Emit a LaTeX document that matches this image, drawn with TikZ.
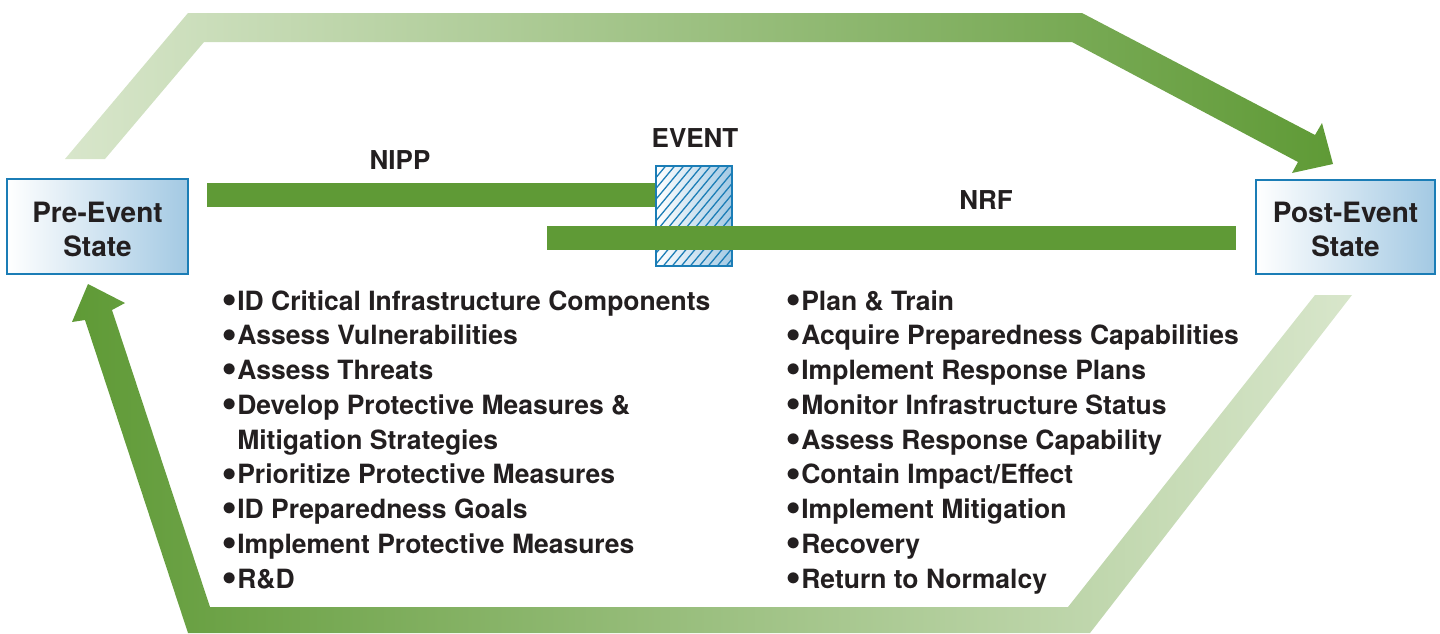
\documentclass[tikz,border=0pt]{standalone}
\usepackage{fontspec}
\setmainfont{TeX Gyre Heros}
\usepackage{tikz}
\usetikzlibrary{positioning}

\definecolor{leaf}{HTML}{5F9A36}
\definecolor{paleleaf}{HTML}{D8E6CB}
\definecolor{edgeblue}{HTML}{1B7DB6}
\definecolor{skyblue}{HTML}{A3C9E3}
\definecolor{ink}{HTML}{231F20}

\newcommand{\itemdot}{\raisebox{0.1em}{\scalebox{1.15}{$\bullet$}}\hspace{0.03em}}

\tikzset{
  statebox/.style={draw=edgeblue, line width=2.5pt, left color=white, right color=skyblue, inner sep=0pt},
  boxtext/.style={align=center, inner sep=0pt, text=ink, font=\fontsize{28}{34}\selectfont\bfseries},
  title/.style={inner sep=0pt, text=ink, font=\fontsize{26}{30}\selectfont\bfseries},
  item/.style={anchor=base west, inner sep=0pt, text=ink, font=\fontsize{26.5}{30}\selectfont\bfseries},
  bar/.style={fill=leaf}
}

\begin{document}
\begin{tikzpicture}[x=1pt,y=-1pt]

\useasboundingbox (0,0) rectangle (1440,633);

% big loop arrows
\shade[left color=paleleaf, right color=leaf] (65,159) -- (188,13) -- (1082,13) -- (1315,135) -- (1322,123)
   -- (1333,164) -- (1292,173) -- (1298,162) -- (1072,42) -- (204,42) -- (105,159) -- cycle;
\shade[left color=leaf, right color=paleleaf] (88,284) -- (125,303) -- (112,310) -- (210,607) -- (1068,607)
   -- (1315,295) -- (1352,295) -- (1090,633) -- (188,633) -- (85,320) -- (72,322) -- cycle;

\node[statebox, minimum width=181pt, minimum height=95pt] (pre) at (97.5,226.5) {};
\node[boxtext] (pretxt) at (97.5,229.5) {Pre-Event\\State};
\node[statebox, minimum width=179pt, minimum height=94pt] (post) at (1345.5,227) {};
\node[boxtext] (posttxt) at (1345.5,229.5) {Post-Event\\State};

% NIPP bar, event, NRF bar
\fill[bar] (207,183) rectangle (656,207);
\node[left color=white, right color=skyblue, minimum width=76pt, minimum height=100pt, inner sep=0pt] (ev) at (694,216) {};
\begin{scope}
\clip (ev.south west) rectangle (ev.north east);
\foreach \i in {0,...,19}
   \draw[edgeblue, line width=1.3pt] (570+9*\i,270) -- ++(100,-120);
\end{scope}
\draw[edgeblue, line width=2pt] (ev.south west) rectangle (ev.north east);
\fill[bar] (547,226) rectangle (1236,250);

\node[title] (nipp) at (400,160) {NIPP};
\node[title] (event) at (695,138) {EVENT};
\node[title] (nrf) at (986,200) {NRF};

\foreach \t [count=\i from 0] in {\itemdot ID Critical Infrastructure Components, \itemdot Assess Vulnerabilities,
   \itemdot Assess Threats, \itemdot Develop Protective Measures \&, \phantom{\itemdot}Mitigation Strategies,
   \itemdot Prioritize Protective Measures, \itemdot ID Preparedness Goals,
   \itemdot Implement Protective Measures, \itemdot R\&D}
   \node[item] (pl\i) at (222,310+34.75*\i) {\t};

\foreach \t [count=\i from 0] in {\itemdot Plan \& Train, \itemdot Acquire Preparedness Capabilities,
   \itemdot Implement Response Plans, \itemdot Monitor Infrastructure Status,
   \itemdot Assess Response Capability, \itemdot Contain Impact/Effect,
   \itemdot Implement Mitigation, \itemdot Recovery, \itemdot Return to Normalcy}
   \node[item] (rl\i) at (786,310+34.75*\i) {\t};

\end{tikzpicture}
\end{document}
